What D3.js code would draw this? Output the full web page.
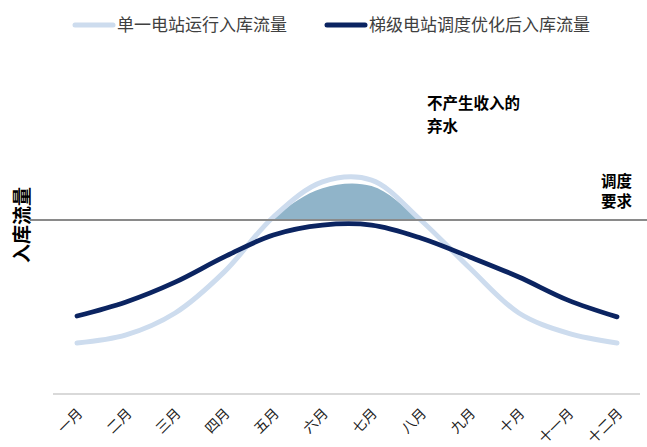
<!DOCTYPE html>
<html>
<head>
<meta charset="utf-8">
<script src="https://cdn.jsdelivr.net/npm/d3@7/dist/d3.min.js"></script>
<style>
  body { margin: 0; background: #fff; }
  svg { display: block; font-family: "Noto Sans CJK SC", "Noto Sans", sans-serif; }
</style>
</head>
<body>
<svg width="647" height="447"></svg>
<script>
var months = ["一月", "二月", "三月", "四月", "五月", "六月", "七月", "八月", "九月", "十月", "十一月", "十二月"];

// 单一电站运行入库流量
var singleFlow = [17, 19.7, 27, 40.7, 59, 70.7, 71.3, 58, 42, 27, 20.3, 17];
// 梯级电站调度优化后入库流量
var cascadeFlow = [26, 30.7, 37.3, 45.7, 53, 56.3, 56.3, 52, 45.7, 39, 31.3, 25.7];
// 弃水区域上沿
var spillTop = [null, null, null, 38, 58.4, 68.6, 69.3, 57.4, 40, null, null, null];
// 调度要求
var requirement = 58;

var legendNames = ["单一电站运行入库流量", "梯级电站调度优化后入库流量"];
var colors = ["#cddcee", "#0b2461"];

var svg = d3.select("svg"),
    width = +svg.attr("width"),
    height = +svg.attr("height");

var x = d3.scalePoint()
    .domain(months)
    .range([77, 617]);

var y = d3.scaleLinear()
    .domain([0, 100])
    .range([394, 94]);

var curve = d3.curveCatmullRom;

// clip: only above the requirement line
svg.append("clipPath")
    .attr("id", "above")
  .append("rect")
    .attr("x", 0)
    .attr("y", 0)
    .attr("width", width)
    .attr("height", y(requirement));

var spillData = months.map(function(m, i) { return { m: m, v: spillTop[i] }; })
    .filter(function(d) { return d.v !== null; });

svg.append("path")
    .datum(spillData)
    .attr("clip-path", "url(#above)")
    .attr("fill", "#90b4c9")
    .attr("d", d3.area()
        .curve(curve)
        .x(function(d) { return x(d.m); })
        .y0(y(requirement))
        .y1(function(d) { return y(d.v); }));

// bottom axis line
svg.append("line")
    .attr("x1", 53).attr("x2", 640)
    .attr("y1", y(0)).attr("y2", y(0))
    .attr("stroke", "#d9d9d9")
    .attr("stroke-width", 2);

var line = d3.line()
    .curve(curve)
    .x(function(d, i) { return x(months[i]); })
    .y(function(d) { return y(d); });

svg.append("path")
    .datum(singleFlow)
    .attr("fill", "none")
    .attr("stroke", colors[0])
    .attr("stroke-width", 5)
    .attr("stroke-linecap", "round")
    .attr("d", line);

// requirement line
svg.append("line")
    .attr("x1", 30).attr("x2", width)
    .attr("y1", y(requirement)).attr("y2", y(requirement))
    .attr("stroke", "#8a8a8a")
    .attr("stroke-width", 2);

svg.append("path")
    .datum(cascadeFlow)
    .attr("fill", "none")
    .attr("stroke", colors[1])
    .attr("stroke-width", 4.8)
    .attr("stroke-linecap", "round")
    .attr("d", line);

// x labels
svg.append("g")
  .selectAll("text")
  .data(months)
  .enter().append("text")
    .attr("transform", function(d) { return "translate(" + (x(d) + 3) + ",411) rotate(-45)"; })
    .attr("text-anchor", "end")
    .attr("dy", "0.35em")
    .style("font-size", "14px")
    .attr("fill", "#222")
    .text(function(d) { return d; });

// y label
svg.append("text")
    .attr("transform", "translate(22,225) rotate(-90)")
    .attr("text-anchor", "middle")
    .attr("dy", "0.35em")
    .style("font-size", "19px")
    .style("font-weight", "bold")
    .attr("fill", "#000")
    .text("入库流量");

// annotations
var notes = [
    { text: "不产生收入的", x: 427, y: 109, size: 15.5 },
    { text: "弃水", x: 427, y: 132, size: 15.5 },
    { text: "调度", x: 601, y: 187, size: 15.5 },
    { text: "要求", x: 601, y: 207, size: 15.5 }
];
svg.append("g")
  .selectAll("text")
  .data(notes)
  .enter().append("text")
    .attr("x", function(d) { return d.x; })
    .attr("y", function(d) { return d.y; })
    .style("font-size", function(d) { return d.size + "px"; })
    .style("font-weight", "bold")
    .attr("fill", "#000")
    .text(function(d) { return d.text; });

// legend
var legendX = [75, 327];
var legend = svg.append("g")
  .selectAll("g")
  .data(legendNames)
  .enter().append("g")
    .attr("transform", function(d, i) { return "translate(" + legendX[i] + ",25)"; });

legend.append("line")
    .attr("x1", 0).attr("x2", 38)
    .attr("stroke", function(d, i) { return colors[i]; })
    .attr("stroke-width", 5)
    .attr("stroke-linecap", "round");

legend.append("text")
    .attr("x", 42)
    .attr("dy", "0.35em")
    .style("font-size", "17px")
    .attr("fill", "#404040")
    .text(function(d) { return d; });
</script>
</body>
</html>
